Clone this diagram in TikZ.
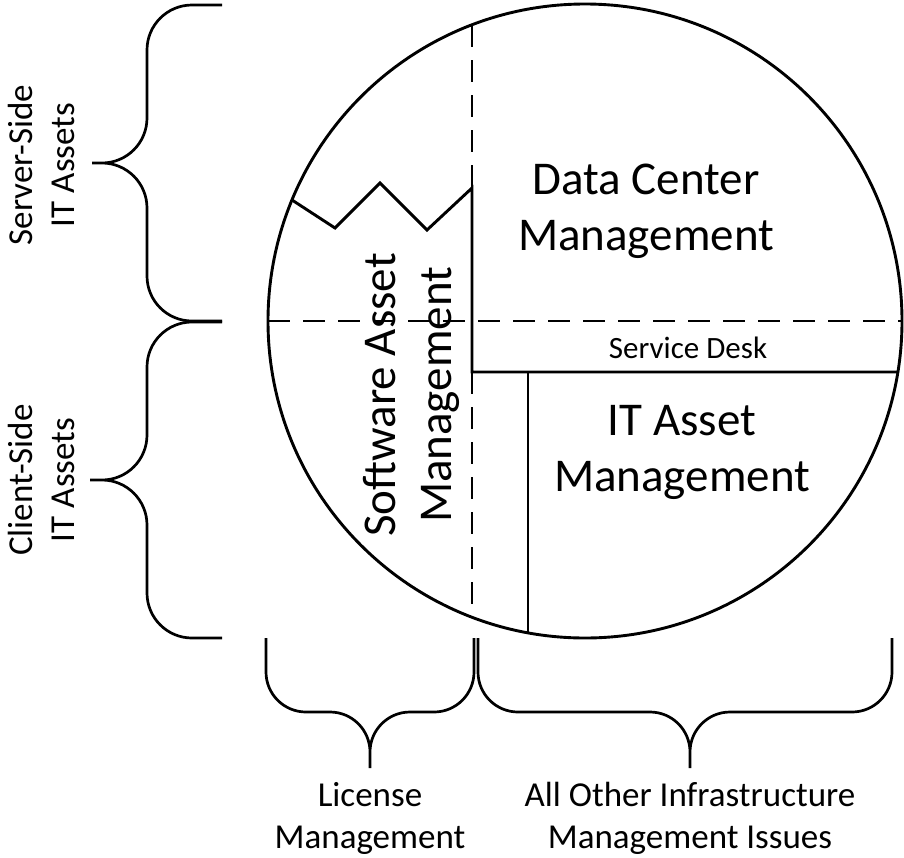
\documentclass[tikz,border=0pt]{standalone}
\usepackage{fontspec}
\setmainfont{Carlito}
\usepackage{tikz}
\def\fontL{\fontsize{47}{56}\selectfont}
\def\fontM{\fontsize{35}{42}\selectfont}
\def\fontS{\fontsize{31}{37}\selectfont}

\begin{document}
\begin{tikzpicture}[x=1pt, y=-1pt, line width=2.9pt,
	cut/.style={dash pattern=on 22pt off 13pt},
	lbl/.style={align=center, inner sep=0pt},
	brc/.style={line width=2.7pt, rounded corners=45pt}]
	\useasboundingbox[fill=white] (0,0) rectangle (904,857);
	\coordinate (c) at (585,321);
	\draw (c) circle (317pt);
	\draw[cut] (268,321) -- (902,321); %
	\draw[cut] (472,25) -- (472,188);
	\draw[cut] (472,372) -- (472,617);
	\draw (292,200) -- (335,228) -- (380,183) -- (427,230) -- (472,188) -- (472,372) -- (898,372);
	\draw (528,372) -- (528,633);
	\node[lbl, font=\fontL] (dcm) at (646,211) {Data Center\\Management};
	\node[lbl, font=\fontS] (sd) at (688,348) {Service Desk};
	\node[lbl, font=\fontL] (itam) at (682,452) {IT Asset\\Management};
	\node[lbl, font=\fontL, rotate=90] (sam) at (411,395) {Software Asset\\Management};
	% braces
	\draw[brc] (222,5) -- (147,5) -- (147,163) -- (92,163) (92,163) -- (147,163) -- (147,321) -- (222,321);
	\draw[brc] (222,322) -- (147,322) -- (147,480) -- (90,480) (90,480) -- (147,480) -- (147,638) -- (222,638);
	\draw[brc, rounded corners=40pt] (266,638) -- (266,712) -- (370,712) -- (370,768) (370,768) -- (370,712) -- (474,712) -- (474,638);
	\draw[brc, rounded corners=40pt] (478,638) -- (478,712) -- (690,712) -- (690,768) (690,768) -- (690,712) -- (892,712) -- (892,638);
	\node[lbl, font=\fontM, rotate=90] (srv) at (41,165) {Server-Side\\IT Assets};
	\node[lbl, font=\fontM, rotate=90] (cli) at (41,480) {Client-Side\\IT Assets};
	\node[lbl, font=\fontM] (lic) at (370,818) {License\\Management};
	\node[lbl, font=\fontM] (oth) at (690,818) {All Other Infrastructure\\Management Issues};
\end{tikzpicture}
\end{document}
